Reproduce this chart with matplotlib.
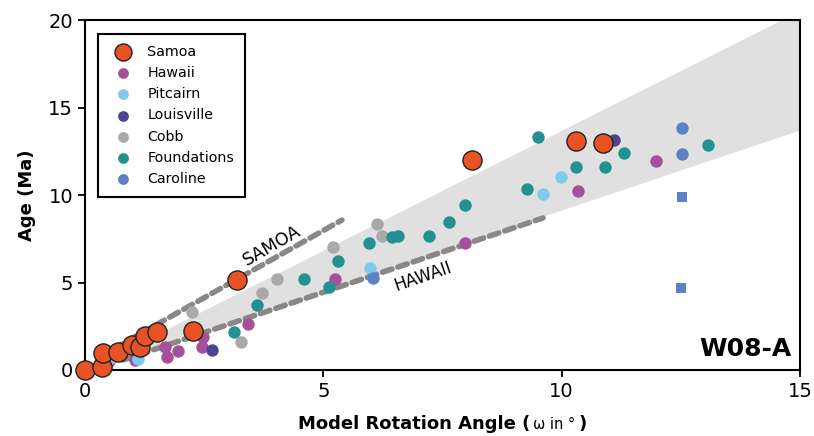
import numpy as np
import matplotlib.pyplot as plt
from matplotlib.offsetbox import TextArea, HPacker, AnnotationBbox

# rotation angle (deg) vs age (Ma) for each chain
samoa_x = [0.0, 0.36, 0.38, 0.69, 0.99, 1.15, 1.26, 1.51, 2.27, 3.19, 8.12, 10.3, 10.87]
samoa_y = [0.0, 0.17, 0.97, 1.03, 1.43, 1.31, 1.97, 2.17, 2.23, 5.14, 12.0, 13.1, 12.97]

hawaii_x = [0.5, 1.05, 1.68, 1.72, 1.95, 2.45, 2.47, 3.42, 5.24, 7.97, 10.34, 11.98]
hawaii_y = [0.5, 0.55, 1.31, 0.75, 1.09, 1.31, 1.89, 2.63, 5.2, 7.26, 10.23, 11.94]

pitcairn_x = [0.38, 0.52, 1.11, 5.98, 9.61, 9.99]
pitcairn_y = [0.3, 0.69, 0.63, 5.83, 10.06, 11.03]

louisville_x = [2.66, 11.1]
louisville_y = [1.14, 13.14]

cobb_x = [2.24, 3.27, 3.71, 4.03, 5.2, 6.13, 6.23]
cobb_y = [3.31, 1.6, 4.4, 5.2, 7.03, 8.34, 7.66]

found_x = [3.13, 3.61, 4.59, 5.12, 5.31, 5.96, 6.44, 6.57, 7.22, 7.64, 7.97, 9.27,
           9.5, 10.3, 10.91, 11.31, 13.07]
found_y = [2.17, 3.71, 5.2, 4.74, 6.23, 7.26, 7.6, 7.66, 7.66, 8.46, 9.43, 10.34,
           13.31, 11.6, 11.6, 12.4, 12.86]

caroline_x = [6.04, 12.52, 12.52]
caroline_y = [5.26, 13.83, 12.34]
caroline_sq_x = [12.52, 12.5]
caroline_sq_y = [9.89, 4.69]

# envelope slopes and the two reference trends
band_upper = 1.37
band_lower = 0.915
samoa_line_x = [0.6, 5.39]
samoa_line_y = [1.21, 8.57]
hawaii_line_x = [0.8, 9.61]
hawaii_line_y = [0.57, 8.69]

fig = plt.figure(figsize=(8.14, 4.36), dpi=100)
ax = fig.add_axes([0.1044, 0.1514, 0.8784, 0.8026])

xb = np.array([0, 15])
ax.fill_between(xb, band_lower * xb, band_upper * xb, color='#e0e0e0', lw=0, zorder=0)

dash = dict(color='#8a8784', lw=4, ls=(0, (1.8, 1.1)), dash_capstyle='round', zorder=1)
ax.plot(samoa_line_x, samoa_line_y, **dash)
ax.plot(hawaii_line_x, hawaii_line_y, **dash)
ax.text(3.92, 7.1, 'SAMOA', rotation=30, fontsize=12.5, ha='center', va='center')
ax.text(7.1, 5.35, 'HAWAII', rotation=19, fontsize=12, ha='center', va='center')

s_small = 80
h_hawaii = ax.scatter(hawaii_x, hawaii_y, s=s_small, c='#a64f9a', lw=0, zorder=3, label='Hawaii')
h_pit = ax.scatter(pitcairn_x, pitcairn_y, s=s_small, c='#7dcaec', lw=0, zorder=3, label='Pitcairn')
h_lou = ax.scatter(louisville_x, louisville_y, s=s_small, c='#4b4594', lw=0, zorder=3, label='Louisville')
h_cobb = ax.scatter(cobb_x, cobb_y, s=s_small, c='#a9a9a9', lw=0, zorder=3, label='Cobb')
h_found = ax.scatter(found_x, found_y, s=s_small, c='#23918f', lw=0, zorder=3, label='Foundations')
h_car = ax.scatter(caroline_x, caroline_y, s=s_small, c='#5c82c6', lw=0, zorder=3, label='Caroline')
ax.scatter(caroline_sq_x, caroline_sq_y, s=45, marker='s', c='#5c82c6', lw=0, zorder=3)
h_samoa = ax.scatter(samoa_x, samoa_y, s=190, c='#e85325', edgecolors='#222222', lw=1,
                     zorder=4, label='Samoa', clip_on=False)

ax.set_xlim(0, 15)
ax.set_ylim(0, 20)
ax.set_xticks([0, 5, 10, 15])
ax.set_yticks([0, 5, 10, 15, 20])
ax.tick_params(labelsize=14, length=5, width=1.3, direction='out')
for sp in ax.spines.values():
    sp.set_linewidth(1.5)

ax.set_ylabel('Age (Ma)', fontsize=13, fontweight='bold', labelpad=9)

lab = HPacker(children=[
    TextArea('Model Rotation Angle (', textprops=dict(fontsize=13, fontweight='bold')),
    TextArea('ω in °', textprops=dict(fontsize=10.5)),
    TextArea(')', textprops=dict(fontsize=13, fontweight='bold')),
], align='baseline', pad=0, sep=2)
ab = AnnotationBbox(lab, (0.5, -0.155), xycoords='axes fraction', frameon=False,
                    box_alignment=(0.5, 0.5))
ax.add_artist(ab)

ax.text(0.988, 0.025, 'W08-A', transform=ax.transAxes, fontsize=18, fontweight='bold',
        ha='right', va='bottom')

leg = ax.legend(handles=[h_samoa, h_hawaii, h_pit, h_lou, h_cobb, h_found, h_car],
                loc='upper left', bbox_to_anchor=(0.008, 0.98), fontsize=10.3,
                fancybox=False, edgecolor='black', framealpha=1, labelspacing=0.5,
                borderpad=0.75, handletextpad=0.7, markerscale=1)
leg.get_frame().set_linewidth(1.5)
leg.legend_handles[0].set_sizes([150])
for hnd in leg.legend_handles[1:]:
    hnd.set_sizes([60])

fig.savefig('out.png', dpi=100)
